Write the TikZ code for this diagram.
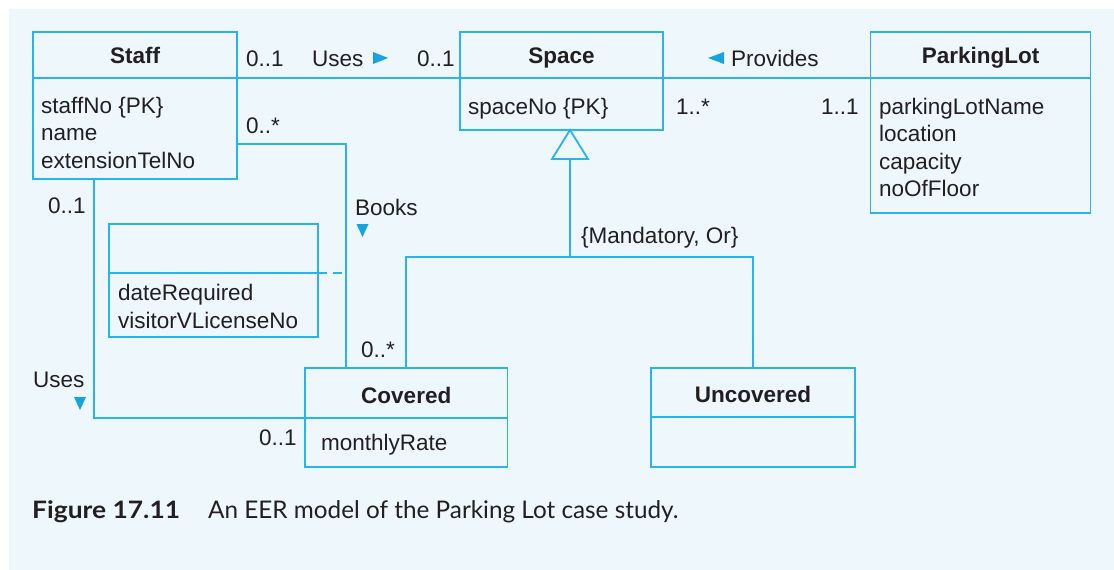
\documentclass[tikz,border=0pt]{standalone}
\usepackage{fontspec}
\setmainfont{Liberation Sans}
\newfontfamily\capfont{Lato}
\usetikzlibrary{calc}
\definecolor{panel}{RGB}{237,247,252}
\definecolor{umlline}{RGB}{41,181,234}
\definecolor{umlfill}{RGB}{22,163,226}
\definecolor{ink}{RGB}{35,31,32}

\begin{document}
\begin{tikzpicture}[x=1pt,y=-1pt,
  umlbox/.style={draw=umlline, line width=1.8pt, inner sep=0pt, outer sep=0pt, anchor=north west},
  title/.style={font=\fontsize{22.5}{27}\selectfont\bfseries, text=ink,
                inner sep=0pt, text height=16pt, text depth=0pt},
  attr/.style={font=\fontsize{22.5}{27}\selectfont, text=ink, inner sep=0pt, anchor=base west},
  lbl/.style={font=\fontsize{22.5}{27}\selectfont, text=ink, inner sep=0pt, anchor=base west},
  link/.style={draw=umlline, line width=1.8pt},
  dir/.style={fill=umlfill, draw=none}
]
% page and panel
\fill[white] (0,0) rectangle (1114,570);
\fill[panel] (9,9) rectangle (1114,570);

% ---- classes: header compartment + body compartment
\node[umlbox, minimum width=204pt, minimum height=46pt]  (staffH) at (33,32) {};
\node[umlbox, minimum width=204pt, minimum height=101pt] (staffB) at (33,78) {};
\node[umlbox, minimum width=203pt, minimum height=46pt]  (spaceH) at (460,32) {};
\node[umlbox, minimum width=203pt, minimum height=52pt]  (spaceB) at (460,78) {};
\node[umlbox, minimum width=220pt, minimum height=46pt]  (lotH)   at (870.5,32) {};
\node[umlbox, minimum width=220pt, minimum height=135pt] (lotB)   at (870.5,78) {};
\node[umlbox, minimum width=209pt, minimum height=49pt]  (assocH) at (109,224) {};
\node[umlbox, minimum width=209pt, minimum height=64pt]  (assocB) at (109,273) {};
\node[umlbox, minimum width=202.5pt, minimum height=50pt] (covH)  at (305,368) {};
\node[umlbox, minimum width=202.5pt, minimum height=49pt] (covB)  at (305,418) {};
\node[umlbox, minimum width=204pt, minimum height=49pt]  (uncH)   at (651,368) {};
\node[umlbox, minimum width=204pt, minimum height=50pt]  (uncB)   at (651,417) {};

% class names
\node[title] (staffT) at (staffH.center) {Staff};
\node[title] (spaceT) at (spaceH.center) {Space};
\node[title] (lotT)   at (lotH.center)   {ParkingLot};
\node[title] (covT)   at ($(covH.center)+(0,2)$) {Covered};
\node[title] (uncT)   at ($(uncH.center)+(0,2)$) {Uncovered};

% attributes
\node[attr] (a1) at (41,113)   {staffNo \{PK\}};
\node[attr] (a2) at (41,140.5) {name};
\node[attr] (a3) at (41,168)   {extensionTelNo};
\node[attr] (a4) at (468,114)  {spaceNo \{PK\}};
\node[attr] (a5) at (879,114)  {parkingLotName};
\node[attr] (a6) at (879,141.5) {location};
\node[attr] (a7) at (879,169)  {capacity};
\node[attr] (a8) at (879,196.5) {noOfFloor};
\node[attr] (a9) at (118,300)  {dateRequired};
\node[attr] (a10) at (118,328) {visitorVLicenseNo};
\node[attr] (a11) at (321,450) {monthlyRate};

% ---- associations
\draw[link] (staffH.south east) -- (spaceH.south west);
\draw[link] (spaceH.south east) -- (lotH.south west);

\coordinate (bkturn) at (346,144);
\draw[link] (staffB.east |- bkturn) -- (bkturn) -- (covH.north -| bkturn);
\draw[link, dash pattern=on 9pt off 6pt] (assocH.south east) -- (assocH.south east -| bkturn);

\coordinate (ucorner) at (94,418);
\draw[link] (staffB.south -| ucorner) -- (ucorner) -- (covH.south west);

% ---- generalization Space <- {Covered, Uncovered}
\coordinate (gtip) at (570,130);
\coordinate (gbase) at (570,159);
\coordinate (gjoin) at (570,257);
\draw[link, fill=panel] (gtip) -- ++(-18,29) -- ++(36,0) -- cycle;
\draw[link] (gbase) -- (gjoin);
\draw[link] (covH.north) -- (covH.north |- gjoin) -- (uncH.north |- gjoin) -- (uncH.north);

% ---- multiplicities and association names
\node[lbl] (m1) at (246,66.5) {0..1};
\node[lbl] (n1) at (312,66.5) {Uses};
\fill[dir] (373,52) -- (388,58) -- (373,64) -- cycle;
\node[lbl] (m2) at (417,66.5) {0..1};
\fill[dir] (724,52) -- (708,58) -- (724,64) -- cycle;
\node[lbl] (n2) at (731,66.5) {Provides};
\node[lbl] (m3) at (676,114) {1..*};
\node[lbl] (m4) at (821,114) {1..1};
\node[lbl] (m5) at (246,133) {0..*};
\node[lbl] (m6) at (48,213) {0..1};
\node[lbl] (n3) at (355,215) {Books};
\fill[dir] (356.5,224) -- (368.5,224) -- (362.5,237) -- cycle;
\node[lbl] (n4) at (33,387) {Uses};
\fill[dir] (74,397) -- (86,397) -- (80,410) -- cycle;
\node[lbl] (m7) at (259,445) {0..1};
\node[lbl] (m8) at (361,357) {0..*};
\node[lbl] (c1) at (581,243) {\{Mandatory, Or\}};

% ---- caption
\node[anchor=base west, inner sep=0pt, text=ink, font=\capfont\fontsize{24}{28}\selectfont\bfseries] (capA) at (32,518) {\scalebox{1.1}[1]{Figure 17.11}};
\node[anchor=base west, inner sep=0pt, text=ink, font=\capfont\fontsize{24.3}{28}\selectfont] (capB) at (208,518) {An EER model of the Parking Lot case study.};
\end{tikzpicture}
\end{document}
